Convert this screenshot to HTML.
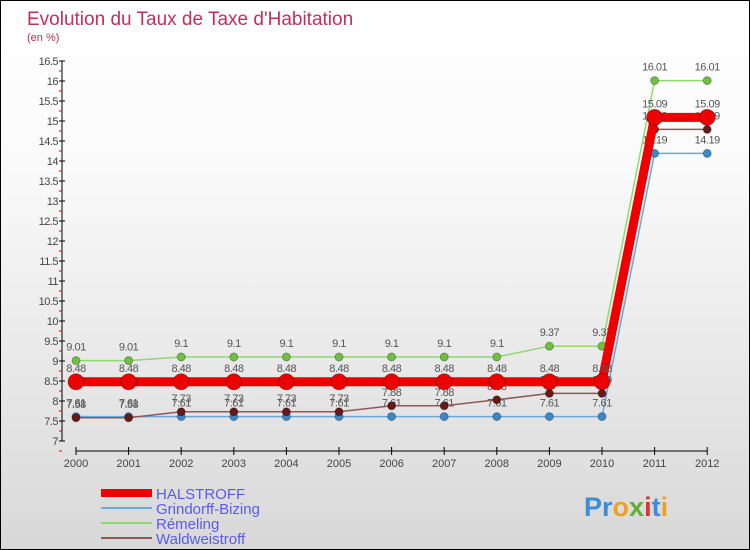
<!DOCTYPE html>
<html><head><meta charset="utf-8"><style>
body{margin:0}
#c{width:750px;height:550px;position:relative;box-sizing:border-box;border:1px solid #000;background:linear-gradient(#fff,#fafafa 30%,#d8d8d8);font-family:"Liberation Sans",sans-serif;overflow:hidden}
</style></head><body>
<div id="c">
<svg id="s" width="750" height="550" style="position:absolute;left:0;top:0">
<text x="26" y="24" font-size="19" fill="#c0305a">Evolution du Taux de Taxe d'Habitation</text>
<text x="26" y="40" font-size="11" fill="#c0305a">(en %)</text>
<g id="axes"></g><g id="series"></g><g id="legend"></g>
<text x="583" y="515" font-size="27" font-weight="bold"><tspan fill="#3a8ed8">Pr</tspan><tspan fill="#f0a020">o</tspan><tspan fill="#60b030">x</tspan><tspan fill="#e03030">i</tspan><tspan fill="#3a8ed8">t</tspan><tspan fill="#f0a020">i</tspan></text>
</svg></div>
<script>
const years=[2000,2001,2002,2003,2004,2005,2006,2007,2008,2009,2010,2011,2012];
const yTicks=[7,7.5,8,8.5,9,9.5,10,10.5,11,11.5,12,12.5,13,13.5,14,14.5,15,15.5,16,16.5];
const halstroff=[8.48,8.48,8.48,8.48,8.48,8.48,8.48,8.48,8.48,8.48,8.48,15.09,15.09];
const grindorff=[7.61,7.61,7.61,7.61,7.61,7.61,7.61,7.61,7.61,7.61,7.61,14.19,14.19];
const remeling=[9.01,9.01,9.1,9.1,9.1,9.1,9.1,9.1,9.1,9.37,9.37,16.01,16.01];
const waldweistroff=[7.58,7.58,7.73,7.73,7.73,7.73,7.88,7.88,8.03,8.19,8.19,14.79,14.79];
const NS="http://www.w3.org/2000/svg";
const X=i=>75+i*52.6, Y=v=>60+(16.5-v)*40;
function mk(t,a,p){const e=document.createElementNS(NS,t);for(const k in a)e.setAttribute(k,a[k]);p.appendChild(e);return e;}
const ax=document.getElementById('axes');
let l=mk('line',{x1:61,y1:60,x2:61,y2:440,stroke:'#000'},ax);


yTicks.forEach(v=>{const y=Y(v);
 mk('line',{x1:58,y1:y,x2:64,y2:y,stroke:'#000'},ax);
 mk('line',{x1:58,y1:y+10,x2:61,y2:y+10,stroke:'#e00'},ax);
 const t=mk('text',{x:57,y:y+4,'font-size':11,'text-anchor':'end',fill:'#444','letter-spacing':'-0.5'},ax);t.textContent=v;
 
 });
l=mk('line',{x1:75,y1:450,x2:706,y2:450,stroke:'#000'},ax);


years.forEach((yr,i)=>{mk('line',{x1:X(i),y1:446,x2:X(i),y2:454,stroke:'#000'},ax);
 const t=mk('text',{x:X(i),y:466,'font-size':11,'text-anchor':'middle',fill:'#444'},ax);t.textContent=yr;
 
 });
const sg=document.getElementById('series');
const defs=[[grindorff,'#6aa8d8','#3a88c8',1.5,4,'grindorff-bizing'],[remeling,'#90d870','#70c040',1.5,4,'remeling'],[waldweistroff,'#905858','#6a1818',1.5,4,'waldweistroff'],[halstroff,'#ee0000','#ee0000',9,8,'halstroff']];
defs.forEach(([d,lc,pc,w,r,n])=>{
 const g=mk('g',{},sg);
 
 
 const p=mk('polyline',{points:d.map((v,i)=>X(i)+','+Y(v)).join(' '),fill:'none',stroke:lc,'stroke-width':w},g);
 
 
 d.forEach((v,i)=>{const c=mk('circle',{cx:X(i),cy:Y(v),r:r,fill:pc,stroke:'rgba(0,0,0,0.3)'},g);
  
  
  const t=mk('text',{x:X(i),y:Y(v)-10,'font-size':11,'text-anchor':'middle',fill:'#555','letter-spacing':'-0.5'},g);t.textContent=v;
  
  });
});
const lg=document.getElementById('legend');
[['HALSTROFF','#ee0000',8],['Grindorff-Bizing','#6aa8d8',2],['Réméling'.replace('Réméling','Réméling'),'#90d870',2],['Waldweistroff','#905858',2]].forEach(([n,c,w],i)=>{
 const y=492+i*15;
 const ln=mk('line',{x1:100,y1:y,x2:151,y2:y,stroke:c,'stroke-width':w},lg);
 
 
 const t=mk('text',{x:155,y:y+6,'font-size':15,fill:'#5a5af0'},lg);t.textContent=i==2?'Rémeling':n;
 
 
});
</script>
</body></html>
